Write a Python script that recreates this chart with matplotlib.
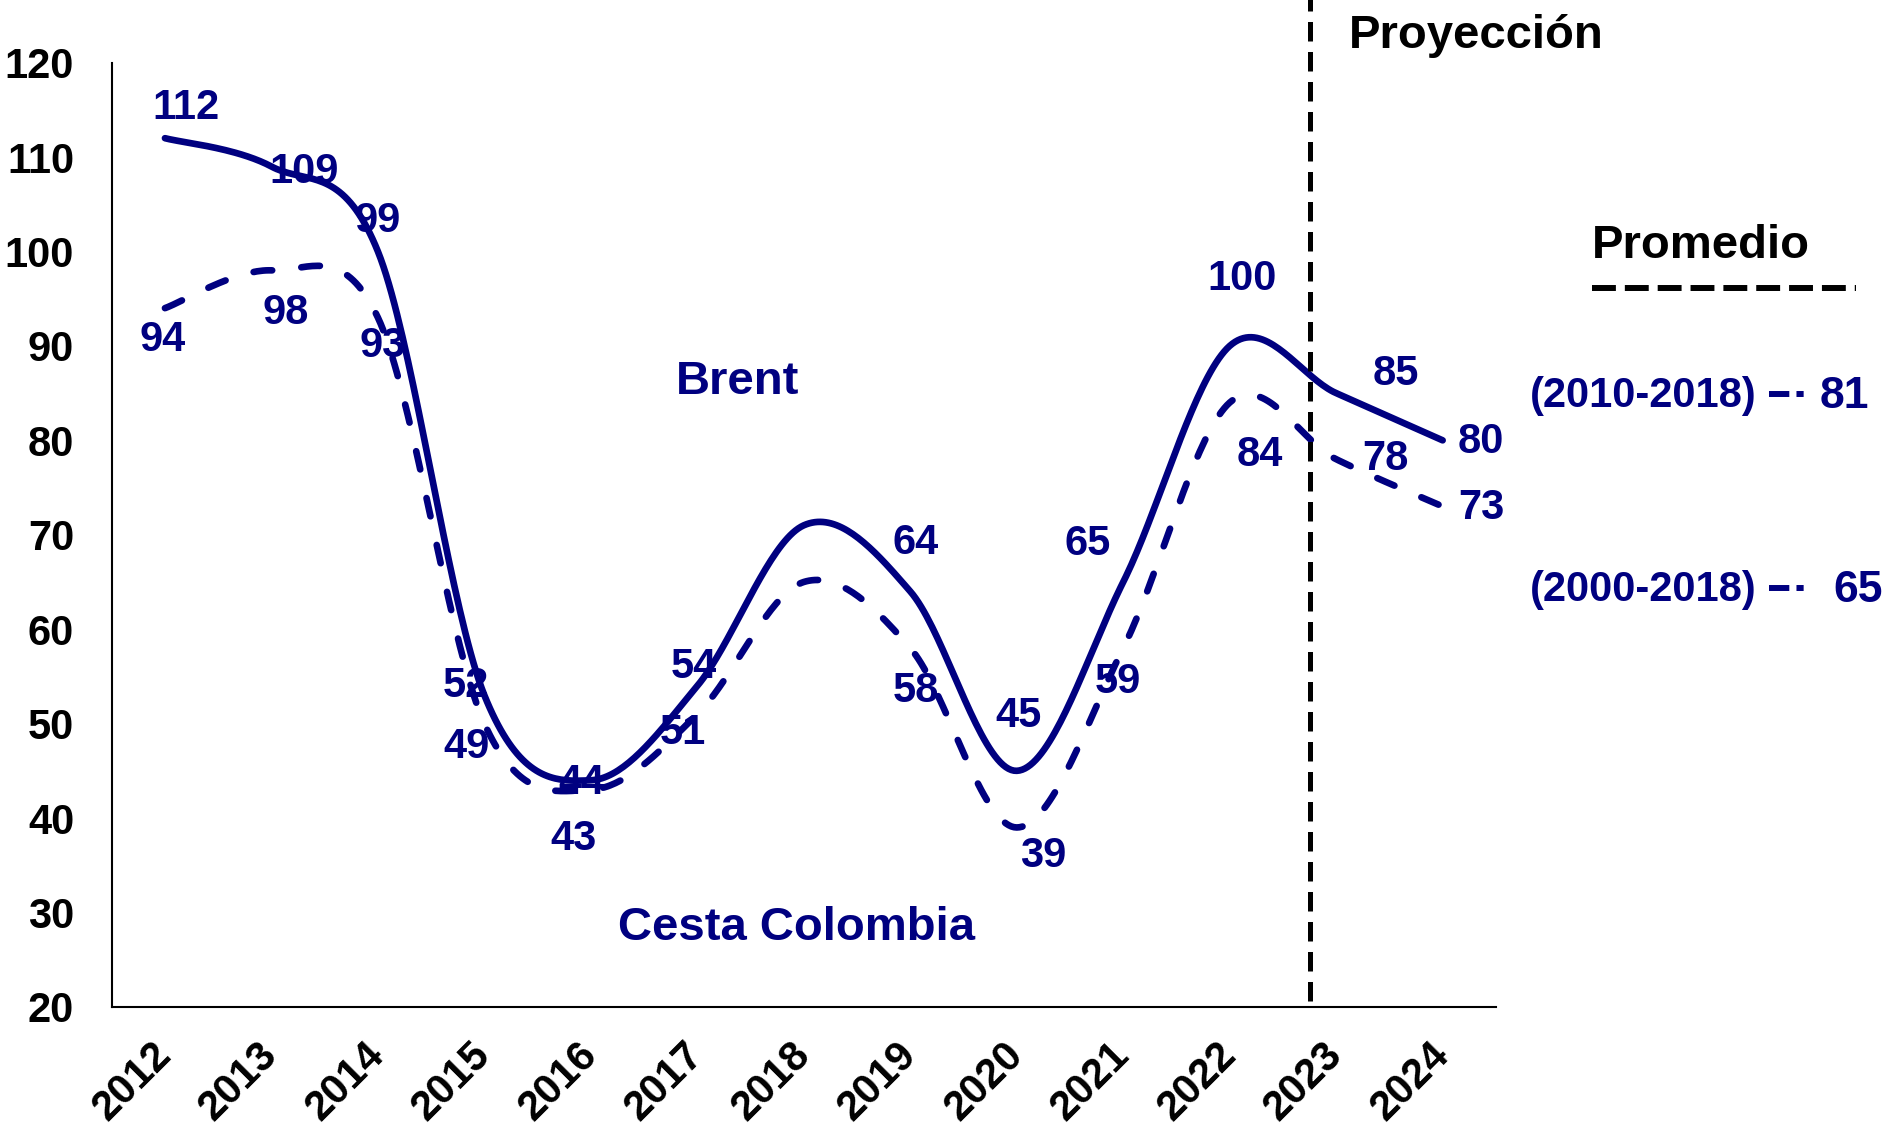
import numpy as np
import matplotlib
matplotlib.use('Agg')
import matplotlib.pyplot as plt
from matplotlib.lines import Line2D

plt.rcParams['font.family'] = ['Liberation Sans', 'DejaVu Sans']
plt.rcParams['font.weight'] = 'bold'

years = ['2012', '2013', '2014', '2015', '2016', '2017', '2018',
         '2019', '2020', '2021', '2022', '2023', '2024']
# values
brent = [112, 109, 100, 53, 44, 54, 71, 64, 45, 65, 90, 85, 80]
cesta = [94, 98, 93, 50, 43, 51, 65, 58, 39, 58, 84, 78, 73]
# values printed on the chart
brent_lbl = ['112', '109', '99', '52', '44', '54', '', '64', '45', '65', '100', '85', '80']
cesta_lbl = ['94', '98', '93', '49', '43', '51', '', '58', '39', '59', '84', '78', '73']
# where the printed labels sit (x index, y value)
brent_lbl_pos = [(0.20, 115.2), (1.31, 108.4), (2.0, 103.2), (2.83, 54.0), (3.91, 43.7),
                 (4.97, 56.0), (6, 0), (7.05, 69.1), (8.02, 50.8), (8.67, 69.0),
                 (10.12, 97.1), (11.56, 87.0), (12.36, 79.8)]
cesta_lbl_pos = [(-0.02, 90.6), (1.13, 93.5), (2.04, 90.0), (2.83, 47.5), (3.84, 37.8),
                 (4.86, 49.0), (6, 0), (7.05, 53.5), (8.25, 36.0), (8.95, 54.4),
                 (10.28, 78.5), (11.46, 78.0), (12.36, 72.8)]
avg_periods = ['(2010-2018)', '(2000-2018)']
avg_values = [81, 65]

navy = '#000080'


def smooth(x, y, n=40):
    # bezier smoothing like excel's "smoothed line"
    x = np.asarray(x, float)
    y = np.asarray(y, float)
    px = np.concatenate([[x[0]], x, [x[-1]]])
    py = np.concatenate([[y[0]], y, [y[-1]]])
    t = np.linspace(0, 1, n)
    xs, ys = [], []
    for i in range(len(x) - 1):
        p0 = np.array([px[i], py[i]])
        p1 = np.array([px[i + 1], py[i + 1]])
        p2 = np.array([px[i + 2], py[i + 2]])
        p3 = np.array([px[i + 3], py[i + 3]])
        c1 = p1 + (p2 - p0) / 6
        c2 = p2 - (p3 - p1) / 6
        b = ((1 - t) ** 3)[:, None] * p1 + (3 * (1 - t) ** 2 * t)[:, None] * c1 \
            + (3 * (1 - t) * t ** 2)[:, None] * c2 + (t ** 3)[:, None] * p2
        xs.append(b[:, 0])
        ys.append(b[:, 1])
    return np.concatenate(xs), np.concatenate(ys)


fig = plt.figure(figsize=(18.84, 11.39), dpi=100)
ax = fig.add_axes([0.0593, 0.116, 0.7347, 0.829])

xi = np.arange(len(years))
bx, by = smooth(xi, brent)
cx, cy = smooth(xi, cesta)
ax.plot(bx, by, color=navy, lw=4.8, solid_capstyle='round')
ax.plot(cx, cy, color=navy, lw=4.8, linestyle=(0, (2.8, 4.4)), dash_capstyle='round')

for s, (px, py) in zip(brent_lbl, brent_lbl_pos):
    if s:
        ax.text(px, py, s, color=navy, fontsize=30, fontweight='bold', ha='center', va='center')
for s, (px, py) in zip(cesta_lbl, cesta_lbl_pos):
    if s:
        ax.text(px, py, s, color=navy, fontsize=30, fontweight='bold', ha='center', va='center')

ax.text(5.38, 86.2, 'Brent', color=navy, fontsize=34, fontweight='bold', ha='center', va='center')
ax.text(5.93, 28.4, 'Cesta Colombia', color=navy, fontsize=34, fontweight='bold',
        ha='center', va='center')

# projection divider
ax.plot([10.75, 10.75], [20.6, 128], color='black', lw=3.6,
        linestyle=(0, (3.9, 2.1)), clip_on=False)

ax.set_xlim(-0.5, 12.5)
ax.set_ylim(20, 120)
ax.set_yticks(range(20, 121, 10))
ax.set_xticks(xi)
ax.set_xticklabels(years, rotation=45, ha='right', va='center', rotation_mode='anchor')
ax.tick_params(axis='both', length=0, labelsize=30)
ax.tick_params(axis='y', pad=27)
ax.tick_params(axis='x', pad=30)
for lbl in ax.get_xticklabels() + ax.get_yticklabels():
    lbl.set_fontweight('bold')
ax.spines['top'].set_visible(False)
ax.spines['right'].set_visible(False)
ax.spines['left'].set_linewidth(1.5)
ax.spines['bottom'].set_linewidth(1.5)

fig.text(0.716, 0.968, 'Proyección', fontsize=34, fontweight='bold', ha='left', va='center')
fig.text(0.845, 0.784, 'Promedio', fontsize=34, fontweight='bold', ha='left', va='center')
fig.add_artist(Line2D([0.845, 0.985], [0.747, 0.747], color='black', lw=4.3,
                      linestyle=(0, (4.0, 1.5)), transform=fig.transFigure))

avg_y = [0.652, 0.482]
for per, val, yy in zip(avg_periods, avg_values, avg_y):
    fig.text(0.812, yy, per, color=navy, fontsize=30, fontweight='bold', ha='left', va='center')
    fig.add_artist(Line2D([0.939, 0.960], [yy + 0.002, yy + 0.002], color=navy, lw=4.3,
                          linestyle=(0, (3.4, 1.2, 1.2, 5)), transform=fig.transFigure))
    fig.text(0.966 if val == 81 else 0.973, yy, str(val), color=navy, fontsize=32,
             fontweight='bold', ha='left', va='center')

fig.savefig('out.png', dpi=100)
